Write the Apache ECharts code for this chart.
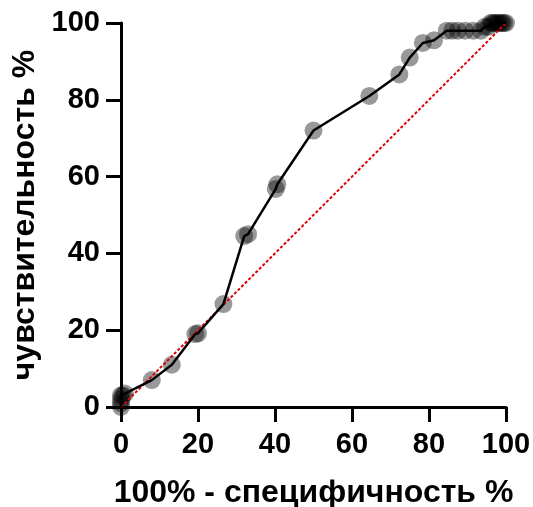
<!DOCTYPE html>
<html>
<head>
<meta charset="utf-8">
<script src="https://cdn.jsdelivr.net/npm/echarts@6/dist/echarts.min.js"></script>
<style>
html,body{margin:0;padding:0;background:#fff;}
#c{width:533px;height:507px;}
</style>
</head>
<body>
<div id="c"></div>
<script>
// ROC curve data (100% - specificity, sensitivity)
var rocX = [0, 0, 0, 0, 0.5, 1, 8, 13.2, 19.3, 20, 26.6, 32, 33, 40.2, 40.6, 50, 64.5, 72.3, 75, 78.4, 81.3, 84.6, 86, 87.5, 89.4, 91.5, 93.5, 94.5, 95.5, 96, 96.5, 97, 97.5, 98, 98.5, 99, 99.5, 100];
var rocY = [0, 1, 2, 3, 3, 3.5, 7, 11, 19, 19.2, 26.8, 44.5, 45, 56.8, 58, 72, 81, 86.6, 91, 94.8, 95.5, 98, 98, 98, 98, 98, 98, 99, 99, 100, 100, 100, 100, 100, 100, 100, 100, 100];
var refX = [0, 100];
var refY = [0, 100];
var xTicks = [0, 20, 40, 60, 80, 100];
var yTicks = [0, 20, 40, 60, 80, 100];
var xTitle = '100% - специфичность %';
var yTitle = 'чувствительность %';

var rocPts = rocX.map(function (x, i) { return [x, rocY[i]]; });
var refPts = refX.map(function (x, i) { return [x, refY[i]]; });

var FONT = '"Liberation Sans", Arial, sans-serif';
var axisCommon = {
  type: 'value', min: 0, max: 100, interval: 20,
  axisLine: { show: true, onZero: false, lineStyle: { color: '#000', width: 3 } },
  axisTick: { show: true, length: 15, lineStyle: { color: '#000', width: 3 } },
  splitLine: { show: false },
  nameLocation: 'middle',
  nameTextStyle: { fontFamily: FONT, fontWeight: 'bold', fontSize: 32, color: '#000' }
};

var chart = echarts.init(document.getElementById('c'), null, { renderer: 'canvas' });
chart.setOption({
  animation: false,
  backgroundColor: '#fff',
  grid: { left: 121, right: 27, top: 23, bottom: 100, containLabel: false, outerBoundsMode: 'none' },
  xAxis: Object.assign({}, axisCommon, {
    name: xTitle, nameGap: 70,
    axisLabel: { margin: 23, fontFamily: FONT, fontWeight: 'bold', fontSize: 29, color: '#000',
      formatter: function (v) { return xTicks.indexOf(v) >= 0 ? String(v) : ''; } }
  }),
  yAxis: Object.assign({}, axisCommon, {
    name: yTitle, nameGap: 79,
    axisLabel: { margin: 21, fontFamily: FONT, fontWeight: 'bold', fontSize: 29, color: '#000',
      formatter: function (v) { return yTicks.indexOf(v) >= 0 ? String(v) : ''; } }
  }),
  series: [
    { type: 'scatter', data: rocPts, symbol: 'circle', symbolSize: 18, clip: false, z: 1,
      itemStyle: { color: 'rgba(0,0,0,0.5)' } },
    { type: 'line', data: refPts, showSymbol: false, symbol: 'none', z: 2, clip: false,
      lineStyle: { color: '#e00000', width: 2, type: [3, 2] } },
    { type: 'line', data: rocPts, showSymbol: false, symbol: 'none', z: 3, clip: false,
      lineStyle: { color: '#000', width: 2.5 } }
  ]
});
</script>
</body>
</html>
